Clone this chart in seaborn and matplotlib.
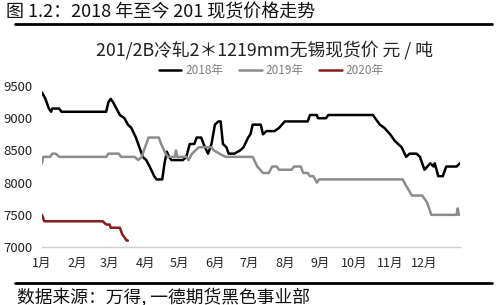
import matplotlib
matplotlib.use("Agg")
import matplotlib.pyplot as plt
import seaborn as sns
import pandas as pd
from matplotlib.lines import Line2D

# ---- data (day of year, price yuan/ton) ----
days_2018 = [0, 3, 6, 8, 9, 15, 17, 56, 58, 60, 62, 65, 68, 72, 75, 78, 82, 86, 88, 91, 94, 98, 100,
             105, 107, 109, 111, 113, 123, 126, 129, 133, 135, 139, 142, 145, 148, 151, 154, 156, 158,
             161, 163, 168, 173, 176, 180, 182, 184, 191, 193, 196, 203, 207, 212, 232, 234, 240, 241,
             248, 250, 289, 291, 295, 299, 304, 308, 314, 318, 321, 327, 330, 334, 339, 342, 343, 346,
             350, 353, 362, 365]
price_2018 = [9400, 9300, 9150, 9100, 9150, 9150, 9100, 9100, 9250, 9300, 9250, 9150, 9050, 9000, 8900,
              8850, 8700, 8500, 8400, 8350, 8250, 8100, 8050, 8050, 8300, 8480, 8400, 8350, 8350, 8400,
              8600, 8600, 8700, 8700, 8560, 8450, 8600, 8900, 8950, 8950, 8600, 8550, 8450, 8450, 8500,
              8550, 8700, 8750, 8900, 8900, 8750, 8800, 8800, 8850, 8950, 8950, 9050, 9050, 9000, 9000,
              9050, 9050, 9000, 8900, 8850, 8750, 8650, 8550, 8400, 8450, 8450, 8400, 8200, 8300, 8250,
              8300, 8100, 8100, 8250, 8250, 8300]

days_2019 = [0, 1, 7, 9, 12, 15, 56, 58, 67, 69, 81, 84, 87, 91, 93, 102, 104, 108, 110, 116, 117, 118,
             126, 128, 131, 134, 137, 148, 150, 155, 160, 184, 188, 193, 198, 201, 205, 207, 218, 220,
             226, 228, 232, 234, 237, 240, 242, 315, 318, 323, 332, 336, 340, 362, 363, 364, 365]
price_2019 = [8300, 8400, 8400, 8450, 8450, 8400, 8400, 8450, 8450, 8400, 8400, 8350, 8400, 8600, 8700,
              8700, 8600, 8450, 8400, 8400, 8500, 8400, 8400, 8350, 8450, 8500, 8550, 8550, 8500, 8450,
              8400, 8400, 8250, 8150, 8150, 8250, 8250, 8200, 8200, 8250, 8250, 8150, 8150, 8100, 8100,
              8000, 8050, 8050, 7950, 7800, 7800, 7700, 7500, 7500, 7600, 7500, 7500]

days_2020 = [0, 2, 53, 56, 59, 60, 68, 70, 72, 74, 75]
price_2020 = [7500, 7400, 7400, 7350, 7350, 7300, 7300, 7200, 7150, 7100, 7100]

series_names = ["2018年", "2019年", "2020年"]
month_starts = [0, 31, 59, 90, 120, 151, 181, 212, 243, 273, 304, 334]
month_labels = ["1月", "2月", "3月", "4月", "5月", "6月", "7月", "8月", "9月", "10月", "11月", "12月"]
y_ticks = [7000, 7500, 8000, 8500, 9000, 9500]

df = pd.concat([
    pd.DataFrame({"day": days_2018, "price": price_2018, "year": series_names[0]}),
    pd.DataFrame({"day": days_2019, "price": price_2019, "year": series_names[1]}),
    pd.DataFrame({"day": days_2020, "price": price_2020, "year": series_names[2]}),
])

sns.set_theme(style="white")
plt.rcParams["font.family"] = ["Noto Sans CJK SC", "DejaVu Sans"]

fig = plt.figure(figsize=(5, 3.05), dpi=100)
ax = fig.add_axes([0.084, 0.19, 0.836, 0.528])

palette = {"2018年": "#000000", "2019年": "#8c8c8c", "2020年": "#8b1a1a"}
sns.lineplot(data=df, x="day", y="price", hue="year", palette=palette, estimator=None,
             sort=False, linewidth=1.8, ax=ax, legend=False)

ax.set_xlim(0, 365)
ax.set_ylim(7000, 9500)
ax.set_yticks(y_ticks)
ax.set_yticklabels([str(v) for v in y_ticks], fontsize=9.5, color="#222222")
ax.set_xticks(month_starts)
ax.set_xticklabels(month_labels, fontsize=9, color="#222222")
ax.set_xlabel("")
ax.set_ylabel("")
for s in ["top", "right", "left"]:
    ax.spines[s].set_visible(False)
ax.spines["bottom"].set_color("#d0d0d0")
ax.spines["bottom"].set_linewidth(1)
ax.tick_params(axis="x", length=3, color="#d0d0d0", pad=4)
ax.tick_params(axis="y", length=0, pad=7)

# legend
handles = [Line2D([0], [0], color=palette[n], lw=1.8) for n in series_names]
fig.legend(handles, series_names, loc="center", bbox_to_anchor=(0.543, 0.77), ncol=3, frameon=False,
           fontsize=8.5, handlelength=1.9, handletextpad=0.35, columnspacing=1.3, labelcolor="#808080")

# titles
fig.text(0.53, 0.835, "201/2B冷轧2＊1219mm无锡现货价 元 / 吨", ha="center", va="center",
         fontsize=12.8, color="#222222")
fig.text(0.012, 0.96, "图 1.2：2018 年至今 201 现货价格走势", ha="left", va="center",
         fontsize=13, color="#111111")
fig.add_artist(Line2D([0.03, 0.984], [0.921, 0.921], color="black", lw=2, transform=fig.transFigure))
fig.add_artist(Line2D([0.03, 0.984], [0.072, 0.072], color="black", lw=2, transform=fig.transFigure))
fig.text(0.034, 0.027, "数据来源：万得, 一德期货黑色事业部", ha="left", va="center",
         fontsize=12.8, color="#111111")

fig.savefig("out.png", dpi=100)
